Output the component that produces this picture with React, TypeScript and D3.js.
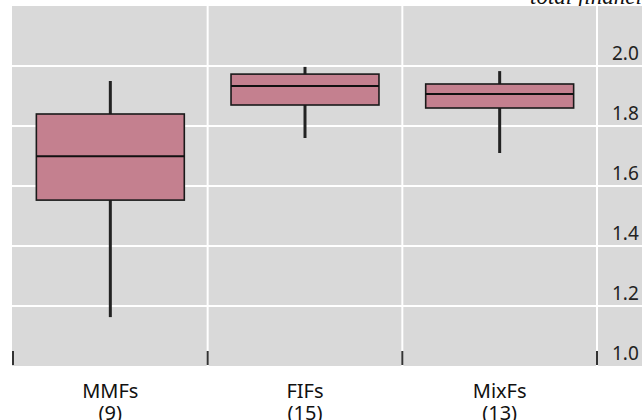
import React, { useEffect, useRef } from "react";
import * as d3 from "d3";

const settings = {
  width: 642,
  height: 420,
  panel: { left: 12, top: 6, right: 642, bottom: 366 },
  axisLeft: 13,
  axisRight: 597,
};

const categories: string[] = ["MMFs", "FIFs", "MixFs"];
const counts: string[] = ["(9)", "(15)", "(13)"];
const whiskerLow: number[] = [1.163, 1.76, 1.71];
const q1: number[] = [1.553, 1.87, 1.86];
const medians: number[] = [1.699, 1.933, 1.907];
const q3: number[] = [1.84, 1.973, 1.94];
const whiskerHigh: number[] = [1.95, 1.997, 1.983];
const yTicks: number[] = [1.0, 1.2, 1.4, 1.6, 1.8, 2.0];

const FONT = "'Noto Sans', 'Open Sans', sans-serif";

export default function App() {
  const svgRef = useRef(null);
  useEffect(() => {
    const svg = d3.select(svgRef.current);
    svg.selectAll("*").remove();
    const p = settings.panel;

    const x = d3
      .scaleBand()
      .domain(categories)
      .range([settings.axisLeft, settings.axisRight])
      .padding(0);

    const y = d3.scaleLinear().domain([1.0, 2.0]).range([366, 66]);

    // title, cut off at the top
    svg
      .append("text")
      .attr("x", 530)
      .attr("y", 4)
      .attr("font-family", "'Liberation Serif', serif")
      .attr("font-style", "italic")
      .attr("font-size", 23)
      .attr("fill", "#111")
      .text("total financial assets");

    // panel
    svg
      .append("rect")
      .attr("x", p.left)
      .attr("y", p.top)
      .attr("width", p.right - p.left)
      .attr("height", p.bottom - p.top)
      .attr("fill", "#d9d9d9");

    // horizontal grid
    svg
      .append("g")
      .selectAll("line")
      .data(yTicks.filter((t) => t > 1.0))
      .join("line")
      .attr("x1", p.left)
      .attr("x2", p.right)
      .attr("y1", (d) => y(d))
      .attr("y2", (d) => y(d))
      .attr("stroke", "#ffffff")
      .attr("stroke-width", 2);

    // vertical grid at category boundaries
    const bounds = categories.map((c) => (x(c) || 0) + x.bandwidth());
    svg
      .append("g")
      .selectAll("line")
      .data(bounds)
      .join("line")
      .attr("x1", (d) => d)
      .attr("x2", (d) => d)
      .attr("y1", p.top)
      .attr("y2", p.bottom)
      .attr("stroke", "#ffffff")
      .attr("stroke-width", 2);

    // x ticks at boundaries
    svg
      .append("g")
      .selectAll("line")
      .data([settings.axisLeft, ...bounds])
      .join("line")
      .attr("x1", (d) => d)
      .attr("x2", (d) => d)
      .attr("y1", 351)
      .attr("y2", 365)
      .attr("stroke", "#333")
      .attr("stroke-width", 2);

    // y labels inside the panel on the right
    svg
      .append("g")
      .selectAll("text")
      .data(yTicks)
      .join("text")
      .attr("x", 612)
      .attr("y", (d) => y(d) - 6)
      .attr("font-family", FONT)
      .attr("font-size", 19)
      .attr("fill", "#222")
      .text((d) => d3.format(".1f")(d));

    // boxes
    const boxW = x.bandwidth() * 0.76;
    const g = svg
      .append("g")
      .selectAll("g")
      .data(categories)
      .join("g")
      .attr("transform", (c) => `translate(${(x(c) || 0) + x.bandwidth() / 2},0)`);

    g.append("line")
      .attr("x1", 0)
      .attr("x2", 0)
      .attr("y1", (_, i) => y(whiskerHigh[i]))
      .attr("y2", (_, i) => y(whiskerLow[i]))
      .attr("stroke", "#222")
      .attr("stroke-width", 3);

    g.append("rect")
      .attr("x", -boxW / 2)
      .attr("width", boxW)
      .attr("y", (_, i) => y(q3[i]))
      .attr("height", (_, i) => y(q1[i]) - y(q3[i]))
      .attr("fill", "#c4808f")
      .attr("stroke", "#1a1a1a")
      .attr("stroke-width", 1.6);

    g.append("line")
      .attr("x1", -boxW / 2)
      .attr("x2", boxW / 2)
      .attr("y1", (_, i) => y(medians[i]))
      .attr("y2", (_, i) => y(medians[i]))
      .attr("stroke", "#111")
      .attr("stroke-width", 2);

    // x labels
    g.append("text")
      .attr("y", 398)
      .attr("text-anchor", "middle")
      .attr("font-family", FONT)
      .attr("font-size", 20)
      .attr("fill", "#111")
      .text((c) => c);

    g.append("text")
      .attr("y", 420)
      .attr("text-anchor", "middle")
      .attr("font-family", FONT)
      .attr("font-size", 20)
      .attr("fill", "#111")
      .text((_, i) => counts[i]);
  }, []);

  return (
    <svg
      ref={svgRef}
      width={settings.width}
      height={settings.height}
      style={{ position: "absolute", left: 0, top: 0, background: "#fff" }}
    ></svg>
  );
}
